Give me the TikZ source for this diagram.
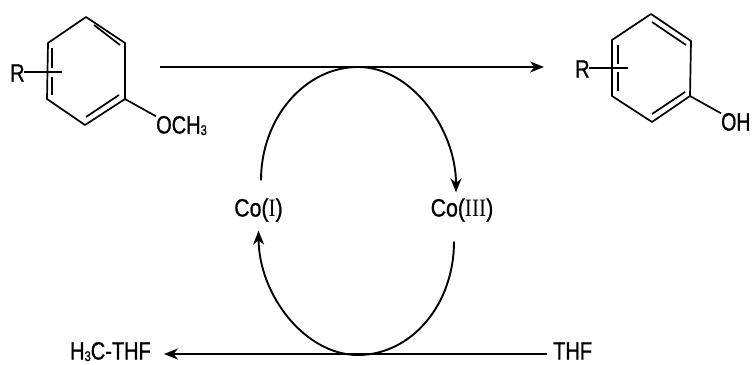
\documentclass[tikz,border=0pt]{standalone}
\usepackage{fontspec}
\setmainfont{Liberation Sans}[RawFeature={embolden=1}]
\newfontfamily\romfont{Liberation Serif}
\usepackage{graphicx}
\usetikzlibrary{arrows.meta}
\newcommand{\narrowtxt}[2][.8]{\scalebox{#1}[1]{#2}}
\newcommand{\lowthree}{\raisebox{-1.5pt}{\fontsize{14}{14}\selectfont 3}}
\tikzset{
  bond/.style={line width=1.7pt,line join=round},
  flow/.style={line width=1.9pt,-{Stealth[length=14pt,width=11pt]}},
  chem/.style={font=\fontsize{25}{25}\selectfont,inner sep=0pt,text height=17pt,text depth=0pt}
}
\begin{document}
\begin{tikzpicture}[x=1pt,y=-1pt]
  \useasboundingbox (0,0) rectangle (752,364);
  % labels
  \node[chem,anchor=west] (rleft) at (10,73) {\narrowtxt{R}};
  \node[chem,anchor=west] (och) at (156,125) {\narrowtxt{OCH\lowthree}};
  \node[chem,anchor=west] (rright) at (575,69) {\narrowtxt{R}};
  \node[chem,anchor=west] (oh) at (721,122) {\narrowtxt[.78]{OH}};
  \node[chem] (coi) at (258.5,208) {\narrowtxt[.85]{Co({\romfont I})}};
  \node[chem] (coiii) at (462,208) {\narrowtxt[.85]{Co({\romfont III})}};
  \node[chem,anchor=east] (hthf) at (151,351) {\narrowtxt{H\lowthree C-THF}};
  \node[chem,anchor=west] (thf) at (553,351) {\narrowtxt{THF}};
  % left ring
  \draw[bond] (86,17) -- (125,43) -- (125,99) -- (85,125) -- (47,99) -- (48,43) -- cycle;
  \draw[bond] (94,25) -- (120,45);
  \draw[bond] (86,117) -- (119,95);
  \draw[bond] (52,48) -- (52,68);
  \draw[bond] (52,77) -- (52,95);
  \coordinate (rlefttip) at (62,72);
  \draw[bond] (rleft) ++(7,-1) -- (rlefttip);
  \draw[bond] (125,99) -- (och.north west);
  % right ring
  \draw[bond] (651,14) -- (691,41) -- (690,96) -- (652,122) -- (612,96) -- (612,40) -- cycle;
  \draw[bond] (652,22) -- (686,45);
  \draw[bond] (652,114) -- (685,92);
  \draw[bond] (618,45) -- (618,64);
  \draw[bond] (618,72) -- (618,91);
  \coordinate (rrighttip) at (628,68);
  \draw[bond] (rright) ++(7,-1) -- (rrighttip);
  \draw[bond] (690,96) -- (oh.north west);
  % cycle
  \coordinate (ctop) at (358,67);
  \coordinate (cbot) at (358,355);
  \coordinate (arrstart) at (160,67);
  \coordinate (arrend) at (544,67);
  \draw[flow] (arrstart) -- (arrend);
  \draw[flow] (thf.west |- 0,354) ++(-6,0) -- (164,354);
  \draw[flow] ([xshift=2.5pt,yshift=19pt]coi.north) .. controls (261,118) and (305,67) .. (ctop)
    .. controls (412,67) and (456,130) .. ([xshift=-6pt,yshift=7pt]coiii.north);
  \draw[flow] ([xshift=-8pt,yshift=-25pt]coiii.south) .. controls (454,305) and (411,355) .. (cbot)
    .. controls (305,355) and (259,295) .. ([yshift=-14pt]coi.south);
\end{tikzpicture}
\end{document}
